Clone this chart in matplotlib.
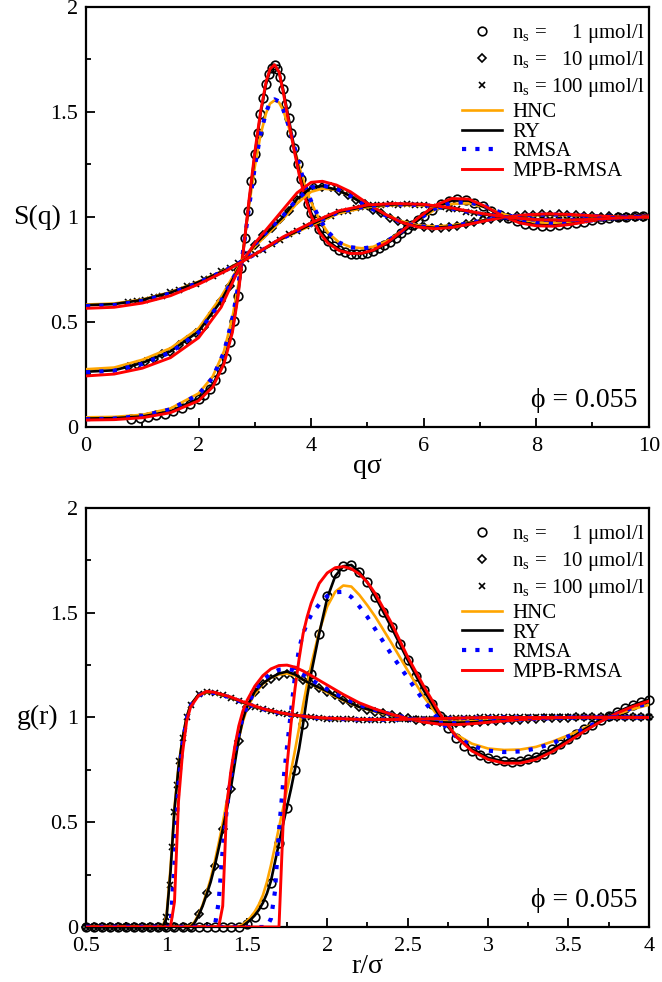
import matplotlib.pyplot as plt
from matplotlib.lines import Line2D
from matplotlib.ticker import MultipleLocator, FuncFormatter

plt.rcParams['font.family'] = ['Liberation Serif', 'DejaVu Serif']
plt.rcParams['mathtext.fontset'] = 'custom'
plt.rcParams['mathtext.rm'] = 'Liberation Serif'
plt.rcParams['mathtext.it'] = 'Liberation Serif:italic'

# ---------------- S(q) : integral-equation curves ----------------
q_fit_1 = [0, 0.5, 1.0, 1.5, 2.0, 2.25, 2.45, 2.6, 2.7, 2.8, 2.9, 3.0, 3.1, 3.2, 3.27,
           3.35, 3.43, 3.5, 3.6, 3.7, 3.8, 3.9, 4.0, 4.15, 4.3, 4.5, 4.7, 4.9, 5.1, 5.35,
           5.6, 5.9, 6.2, 6.5, 6.8, 7.1, 7.4, 7.7, 8.0, 8.3, 8.6, 8.9, 9.2, 9.6, 10.0]
sq_hnc_1 = [0.046, 0.048, 0.058, 0.088, 0.16, 0.24, 0.36, 0.52, 0.67, 0.86, 1.06, 1.24, 1.39,
            1.495, 1.54, 1.555, 1.545, 1.51, 1.43, 1.33, 1.23, 1.14, 1.07, 0.985, 0.925, 0.878,
            0.857, 0.851, 0.858, 0.885, 0.93, 0.985, 1.035, 1.062, 1.065, 1.045, 1.015, 0.99,
            0.975, 0.97, 0.973, 0.982, 0.991, 0.999, 1.003]
sq_ry_1 = [0.04, 0.042, 0.05, 0.074, 0.135, 0.2, 0.31, 0.46, 0.63, 0.85, 1.08, 1.3, 1.49, 1.635,
           1.695, 1.72, 1.69, 1.61, 1.47, 1.33, 1.2, 1.1, 1.02, 0.94, 0.885, 0.845, 0.828, 0.826,
           0.838, 0.873, 0.92, 0.985, 1.045, 1.078, 1.078, 1.045, 1.005, 0.975, 0.962, 0.959,
           0.966, 0.979, 0.992, 1.002, 1.004]
sq_rmsa_1 = [0.037, 0.04, 0.053, 0.084, 0.155, 0.235, 0.355, 0.515, 0.665, 0.855, 1.055, 1.24,
             1.395, 1.5, 1.545, 1.56, 1.55, 1.515, 1.435, 1.335, 1.235, 1.145, 1.075, 0.99,
             0.928, 0.878, 0.856, 0.85, 0.857, 0.884, 0.93, 0.987, 1.04, 1.068, 1.07, 1.05,
             1.018, 0.99, 0.974, 0.969, 0.972, 0.981, 0.99, 0.998, 1.003]
sq_mpb_1 = [0.033, 0.035, 0.044, 0.068, 0.125, 0.19, 0.3, 0.45, 0.62, 0.85, 1.09, 1.31, 1.5,
            1.645, 1.705, 1.725, 1.69, 1.6, 1.455, 1.315, 1.185, 1.085, 1.005, 0.925, 0.875,
            0.84, 0.826, 0.827, 0.842, 0.878, 0.93, 0.995, 1.055, 1.088, 1.085, 1.05, 1.005,
            0.972, 0.958, 0.956, 0.964, 0.978, 0.991, 1.002, 1.005]

q_fit_10 = [0, 0.5, 1.0, 1.5, 2.0, 2.4, 2.77, 3.0, 3.25, 3.5, 3.75, 4.0, 4.2, 4.45, 4.7, 5.0,
            5.3, 5.6, 5.9, 6.2, 6.5, 6.8, 7.1, 7.4, 7.8, 8.2, 8.6, 9.0, 9.5, 10.0]
sq_hnc_10 = [0.275, 0.283, 0.32, 0.375, 0.47, 0.62, 0.79, 0.86, 0.925, 0.99, 1.065, 1.12, 1.135,
             1.13, 1.1, 1.055, 1.015, 0.98, 0.96, 0.955, 0.96, 0.972, 0.986, 0.998, 1.006, 1.01,
             1.008, 1.004, 1.0, 1.0]
sq_ry_10 = [0.263, 0.27, 0.305, 0.36, 0.455, 0.6, 0.785, 0.87, 0.935, 1.0, 1.085, 1.14, 1.147,
            1.13, 1.1, 1.05, 1.01, 0.975, 0.955, 0.948, 0.955, 0.97, 0.985, 0.998, 1.008, 1.012,
            1.01, 1.005, 1.0, 1.0]
sq_rmsa_10 = [0.26, 0.268, 0.3, 0.355, 0.45, 0.6, 0.785, 0.87, 0.94, 1.005, 1.085, 1.14, 1.15,
              1.135, 1.1, 1.05, 1.01, 0.975, 0.955, 0.95, 0.957, 0.97, 0.985, 0.998, 1.008,
              1.012, 1.01, 1.005, 1.0, 1.0]
sq_mpb_10 = [0.243, 0.252, 0.28, 0.33, 0.425, 0.57, 0.785, 0.875, 0.955, 1.035, 1.115, 1.165,
             1.17, 1.152, 1.12, 1.065, 1.015, 0.975, 0.952, 0.944, 0.95, 0.965, 0.982, 0.997,
             1.01, 1.015, 1.012, 1.006, 1.0, 0.998]

q_fit_100 = [0, 0.5, 1.0, 1.5, 2.0, 2.5, 3.0, 3.5, 4.0, 4.5, 5.0, 5.5, 6.0, 6.5, 7.0, 7.5, 8.0,
             8.5, 9.0, 9.5, 10.0]
sq_hnc_100 = [0.583, 0.588, 0.607, 0.642, 0.692, 0.752, 0.822, 0.897, 0.96, 1.018, 1.047, 1.057,
              1.055, 1.04, 1.016, 0.998, 0.988, 0.986, 0.99, 0.996, 1.0]
sq_ry_100 = [0.58, 0.585, 0.605, 0.64, 0.69, 0.75, 0.822, 0.9, 0.965, 1.025, 1.052, 1.06, 1.058,
             1.04, 1.015, 0.997, 0.987, 0.985, 0.99, 0.996, 1.0]
sq_rmsa_100 = [0.575, 0.58, 0.6, 0.636, 0.687, 0.749, 0.822, 0.9, 0.965, 1.024, 1.052, 1.06,
               1.057, 1.04, 1.015, 0.997, 0.987, 0.985, 0.99, 0.996, 1.0]
sq_mpb_100 = [0.565, 0.57, 0.59, 0.625, 0.68, 0.745, 0.822, 0.905, 0.972, 1.03, 1.057, 1.064,
              1.06, 1.043, 1.018, 0.998, 0.987, 0.984, 0.989, 0.996, 1.0]

# ---------------- S(q) : simulation points ----------------
q_sim_1 = [0.8, 0.95, 1.1, 1.25, 1.4, 1.55, 1.7, 1.85, 2.0, 2.1, 2.2, 2.3, 2.4, 2.48, 2.56,
           2.63, 2.7, 2.76, 2.82, 2.88, 2.94, 3.0, 3.05, 3.1, 3.15, 3.2, 3.25, 3.3, 3.35, 3.4,
           3.45, 3.5, 3.55, 3.6, 3.65, 3.7, 3.76, 3.82, 3.88, 3.94, 4.0, 4.07, 4.14, 4.22, 4.3,
           4.4, 4.5, 4.6, 4.7, 4.8, 4.9, 5.0, 5.1, 5.2, 5.3, 5.4, 5.5, 5.6, 5.7, 5.8, 5.9, 6.0,
           6.15, 6.3, 6.45, 6.6, 6.75, 6.9, 7.05, 7.2, 7.35, 7.5, 7.65, 7.8, 7.95, 8.1, 8.25,
           8.4, 8.55, 8.7, 8.85, 9.0, 9.15, 9.3, 9.45, 9.6, 9.75, 9.9]
sq_sim_1 = [0.038, 0.042, 0.046, 0.055, 0.062, 0.077, 0.09, 0.108, 0.132, 0.152, 0.18, 0.222,
            0.275, 0.33, 0.405, 0.505, 0.625, 0.755, 0.9, 1.03, 1.17, 1.3, 1.4, 1.49, 1.565,
            1.635, 1.68, 1.71, 1.725, 1.705, 1.665, 1.61, 1.54, 1.47, 1.4, 1.33, 1.25, 1.18,
            1.115, 1.06, 1.02, 0.98, 0.945, 0.91, 0.885, 0.86, 0.843, 0.833, 0.826, 0.822,
            0.824, 0.83, 0.838, 0.85, 0.866, 0.882, 0.9, 0.922, 0.942, 0.962, 0.985, 1.005,
            1.035, 1.06, 1.078, 1.085, 1.08, 1.068, 1.05, 1.028, 1.01, 0.993, 0.98, 0.968,
            0.962, 0.958, 0.957, 0.96, 0.965, 0.97, 0.978, 0.985, 0.99, 0.995, 0.999, 1.002,
            1.004, 1.004]

q_sim = [0.75, 0.9, 1.05, 1.2, 1.35, 1.5, 1.65, 1.8, 1.95, 2.1, 2.25, 2.4, 2.55, 2.7, 2.85, 3.0,
         3.15, 3.3, 3.45, 3.6, 3.75, 3.9, 4.05, 4.2, 4.35, 4.5, 4.65, 4.8, 4.95, 5.1, 5.25, 5.4,
         5.55, 5.7, 5.85, 6.0, 6.15, 6.3, 6.45, 6.6, 6.75, 6.9, 7.05, 7.2, 7.35, 7.5, 7.65, 7.8,
         7.95, 8.1, 8.25, 8.4, 8.55, 8.7, 8.85, 9.0, 9.15, 9.3, 9.45, 9.6, 9.75, 9.9]
sq_sim_10 = [0.285, 0.293, 0.31, 0.322, 0.347, 0.358, 0.388, 0.412, 0.447, 0.478, 0.542, 0.598,
             0.672, 0.748, 0.812, 0.866, 0.912, 0.946, 0.992, 1.028, 1.082, 1.118, 1.143, 1.145,
             1.142, 1.123, 1.107, 1.083, 1.062, 1.034, 1.018, 0.996, 0.982, 0.966, 0.958, 0.95,
             0.949, 0.946, 0.953, 0.958, 0.968, 0.974, 0.984, 0.991, 0.995, 1.001, 1.004, 1.009,
             1.009, 1.013, 1.011, 1.012, 1.009, 1.01, 1.006, 1.006, 1.002, 1.003, 0.999, 1.001,
             1.0, 0.999]
sq_sim_100 = [0.594, 0.602, 0.605, 0.618, 0.626, 0.643, 0.653, 0.673, 0.683, 0.705, 0.718, 0.741,
              0.755, 0.781, 0.798, 0.825, 0.843, 0.871, 0.89, 0.918, 0.933, 0.955, 0.968, 0.991,
              1.003, 1.022, 1.028, 1.042, 1.046, 1.057, 1.056, 1.062, 1.058, 1.061, 1.056, 1.057,
              1.048, 1.047, 1.039, 1.036, 1.026, 1.021, 1.011, 1.008, 1.0, 0.998, 0.991, 0.991,
              0.986, 0.988, 0.984, 0.986, 0.984, 0.987, 0.987, 0.991, 0.991, 0.995, 0.995, 0.998,
              0.998, 1.001]

# ---------------- g(r) : integral-equation curves ----------------
r_fit_1 = [0.5, 1.4, 1.45, 1.475, 1.5, 1.525, 1.55, 1.575, 1.6, 1.625, 1.65, 1.675, 1.7, 1.725,
           1.75, 1.775, 1.8, 1.825, 1.85, 1.875, 1.9, 1.95, 2.0, 2.05, 2.1, 2.15, 2.2, 2.25, 2.3,
           2.4, 2.5, 2.6, 2.7, 2.8, 2.9, 3.0, 3.1, 3.2, 3.3, 3.4, 3.5, 3.6, 3.7, 3.8, 3.9, 4.0]
gr_hnc_1 = [0, 0, 0.003, 0.012, 0.028, 0.048, 0.074, 0.108, 0.152, 0.215, 0.295, 0.385, 0.475,
            0.565, 0.655, 0.745, 0.845, 0.95, 1.06, 1.16, 1.25, 1.41, 1.53, 1.6, 1.63, 1.625,
            1.585, 1.535, 1.48, 1.355, 1.225, 1.1, 0.995, 0.92, 0.875, 0.852, 0.845, 0.847,
            0.86, 0.885, 0.915, 0.95, 0.985, 1.015, 1.04, 1.06]
gr_ry_1 = [0, 0, 0, 0.005, 0.02, 0.036, 0.056, 0.082, 0.115, 0.16, 0.22, 0.31, 0.4, 0.49, 0.574,
           0.66, 0.755, 0.85, 0.97, 1.1, 1.21, 1.4, 1.57, 1.675, 1.722, 1.728, 1.695, 1.645,
           1.575, 1.43, 1.275, 1.13, 1.005, 0.91, 0.848, 0.808, 0.79, 0.792, 0.812, 0.848,
           0.895, 0.943, 0.988, 1.025, 1.058, 1.085]
gr_rmsa_1 = [0, 0, 0, 0, 0, 0, 0, 0, 0, 0, 0.04, 0.17, 0.46, 0.68, 0.86, 1.03, 1.2, 1.33, 1.4,
             1.45, 1.49, 1.54, 1.58, 1.598, 1.6, 1.575, 1.53, 1.48, 1.42, 1.3, 1.19, 1.08,
             0.985, 0.91, 0.865, 0.842, 0.835, 0.838, 0.852, 0.877, 0.91, 0.947, 0.985, 1.018,
             1.046, 1.068]
gr_mpb_1 = [0, 0, 0, 0, 0, 0, 0, 0, 0, 0, 0, 0, 0, 0.48, 0.77, 0.97, 1.14, 1.28, 1.4, 1.48,
            1.545, 1.64, 1.69, 1.715, 1.72, 1.71, 1.685, 1.645, 1.59, 1.45, 1.29, 1.15, 1.02,
            0.91, 0.84, 0.8, 0.782, 0.782, 0.8, 0.837, 0.885, 0.935, 0.98, 1.02, 1.052, 1.078]

r_fit_10 = [0.5, 1.1, 1.15, 1.175, 1.2, 1.225, 1.25, 1.275, 1.3, 1.325, 1.35, 1.375, 1.4, 1.425,
            1.45, 1.475, 1.5, 1.55, 1.6, 1.65, 1.7, 1.75, 1.8, 1.85, 1.9, 2.0, 2.1, 2.2, 2.3,
            2.4, 2.5, 2.6, 2.7, 2.8, 2.9, 3.0, 3.2, 3.4, 3.6, 3.8, 4.0]
gr_hnc_10 = [0, 0, 0.005, 0.025, 0.06, 0.105, 0.165, 0.23, 0.31, 0.4, 0.495, 0.6, 0.7, 0.8, 0.9,
             0.98, 1.04, 1.115, 1.16, 1.19, 1.205, 1.21, 1.2, 1.18, 1.16, 1.12, 1.082, 1.05,
             1.028, 1.01, 0.997, 0.987, 0.981, 0.98, 0.982, 0.986, 0.993, 0.998, 1.001, 1.001,
             1.0]
gr_ry_10 = [0, 0, 0, 0.02, 0.055, 0.1, 0.155, 0.215, 0.29, 0.375, 0.465, 0.56, 0.66, 0.78, 0.9,
            0.99, 1.05, 1.125, 1.163, 1.19, 1.21, 1.219, 1.205, 1.18, 1.16, 1.125, 1.085, 1.05,
            1.03, 1.012, 0.998, 0.985, 0.977, 0.975, 0.977, 0.982, 0.99, 0.997, 1.001, 1.002,
            1.0]
gr_rmsa_10 = [0, 0, 0, 0, 0, 0, 0, 0, 0, 0.12, 0.37, 0.56, 0.71, 0.84, 0.93, 1.0, 1.05, 1.13,
              1.18, 1.21, 1.228, 1.232, 1.225, 1.205, 1.18, 1.135, 1.095, 1.06, 1.035, 1.015,
              0.998, 0.984, 0.975, 0.973, 0.976, 0.981, 0.99, 0.997, 1.001, 1.002, 1.0]
gr_mpb_10 = [0, 0, 0, 0, 0, 0, 0, 0, 0, 0, 0.1, 0.58, 0.74, 0.86, 0.96, 1.03, 1.08, 1.15, 1.2,
             1.232, 1.248, 1.25, 1.24, 1.222, 1.2, 1.155, 1.11, 1.07, 1.04, 1.015, 0.995, 0.978,
             0.968, 0.966, 0.97, 0.977, 0.99, 0.998, 1.002, 1.002, 1.0]

r_fit_100 = [0.5, 0.95, 0.975, 1.0, 1.025, 1.05, 1.075, 1.1, 1.125, 1.15, 1.2, 1.25, 1.3, 1.4,
             1.5, 1.6, 1.7, 1.8, 1.9, 2.0, 2.2, 2.4, 2.6, 2.8, 3.0, 3.3, 3.6, 4.0]
gr_hnc_100 = [0, 0, 0, 0.05, 0.28, 0.57, 0.77, 0.9, 1.0, 1.06, 1.108, 1.12, 1.116, 1.094, 1.064,
              1.04, 1.022, 1.01, 1.0, 0.995, 0.99, 0.99, 0.993, 0.997, 1.0, 1.0, 1.0, 1.0]
gr_ry_100 = [0, 0, 0, 0.04, 0.26, 0.56, 0.76, 0.9, 1.0, 1.06, 1.11, 1.122, 1.118, 1.095, 1.065,
             1.04, 1.022, 1.01, 1.0, 0.995, 0.99, 0.99, 0.993, 0.997, 1.0, 1.0, 1.0, 1.0]
gr_rmsa_100 = [0, 0, 0, 0, 0, 0.3, 0.68, 0.87, 0.99, 1.055, 1.105, 1.12, 1.117, 1.095, 1.065,
               1.04, 1.022, 1.01, 1.0, 0.995, 0.99, 0.99, 0.993, 0.997, 1.0, 1.0, 1.0, 1.0]
gr_mpb_100 = [0, 0, 0, 0, 0, 0.12, 0.6, 0.83, 0.98, 1.05, 1.105, 1.125, 1.12, 1.098, 1.068,
              1.042, 1.024, 1.011, 1.002, 0.997, 0.991, 0.99, 0.993, 0.997, 1.0, 1.0, 1.0, 1.0]

# ---------------- g(r) : simulation points ----------------
r_sim = [0.5, 0.55, 0.6, 0.65, 0.7, 0.75, 0.8, 0.85, 0.9, 0.95, 1.0, 1.05, 1.1, 1.15, 1.2, 1.25,
         1.3, 1.35, 1.4, 1.45, 1.5, 1.55, 1.6, 1.65, 1.7, 1.75, 1.8, 1.85, 1.9, 1.95, 2.0, 2.05,
         2.1, 2.15, 2.2, 2.25, 2.3, 2.35, 2.4, 2.45, 2.5, 2.55, 2.6, 2.65, 2.7, 2.75, 2.8, 2.85,
         2.9, 2.95, 3.0, 3.05, 3.1, 3.15, 3.2, 3.25, 3.3, 3.35, 3.4, 3.45, 3.5, 3.55, 3.6, 3.65,
         3.7, 3.75, 3.8, 3.85, 3.9, 3.95, 4.0]
gr_sim_1 = [0, 0, 0, 0, 0, 0, 0, 0, 0, 0, 0, 0, 0, 0, 0, 0, 0, 0, 0, 0,
            0.015, 0.05, 0.11, 0.21, 0.4, 0.57, 0.75, 0.97, 1.21, 1.4, 1.58, 1.69, 1.725, 1.73,
            1.695, 1.645, 1.575, 1.505, 1.43, 1.35, 1.275, 1.2, 1.13, 1.065, 1.005, 0.95, 0.9,
            0.865, 0.84, 0.82, 0.805, 0.795, 0.79, 0.788, 0.792, 0.8, 0.812, 0.828, 0.848, 0.872,
            0.897, 0.92, 0.943, 0.965, 0.988, 1.008, 1.027, 1.043, 1.058, 1.072, 1.085]
gr_sim_10 = [0, 0, 0, 0, 0, 0, 0, 0, 0, 0, 0, 0, 0, 0,
             0.06, 0.16, 0.29, 0.47, 0.66, 0.89, 1.05, 1.12, 1.16, 1.185, 1.2, 1.21, 1.2, 1.18,
             1.16, 1.14, 1.122, 1.105, 1.085, 1.067, 1.05, 1.038, 1.028, 1.02, 1.01, 1.003,
             0.997, 0.99, 0.985, 0.981, 0.977, 0.975, 0.975, 0.976, 0.977, 0.979, 0.982, 0.985,
             0.987, 0.989, 0.99, 0.992, 0.994, 0.996, 0.997, 0.998, 0.999, 1.0, 1.001, 1.001,
             1.002, 1.002, 1.002, 1.001, 1.001, 1.0, 1.0]
r_sim_100 = [0.5, 0.55, 0.6, 0.65, 0.7, 0.75, 0.8, 0.85, 0.9, 0.95, 0.98, 1.0, 1.02, 1.035,
             1.05, 1.065, 1.08, 1.1, 1.125, 1.15, 1.2, 1.25, 1.3, 1.35, 1.4, 1.45, 1.5, 1.55,
             1.6, 1.65, 1.7, 1.75, 1.8, 1.85, 1.9, 1.95, 2.0, 2.05, 2.1, 2.15, 2.2, 2.25, 2.3,
             2.35, 2.4, 2.45, 2.5, 2.55, 2.6, 2.65, 2.7, 2.75, 2.8, 2.85, 2.9, 2.95, 3.0, 3.05,
             3.1, 3.15, 3.2, 3.25, 3.3, 3.35, 3.4, 3.45, 3.5, 3.55, 3.6, 3.65, 3.7, 3.75, 3.8,
             3.85, 3.9, 3.95, 4.0]
gr_sim_100 = [0, 0, 0, 0, 0, 0, 0, 0, 0, 0, 0, 0.05, 0.2, 0.38, 0.55, 0.68, 0.79, 0.9, 1.0,
              1.06, 1.11, 1.122, 1.118, 1.107, 1.095, 1.08, 1.065, 1.052, 1.04, 1.03, 1.022,
              1.015, 1.01, 1.004, 1.0, 0.997, 0.995, 0.993, 0.992, 0.991, 0.99, 0.99, 0.99, 0.99,
              0.99, 0.991, 0.992, 0.993, 0.994, 0.995, 0.996, 0.997, 0.998, 0.999, 0.999, 1.0,
              1.0, 1.0, 1.0, 1.0, 1.0, 1.0, 1.0, 1.0, 1.0, 1.0, 1.0, 1.0, 1.0, 1.0, 1.0, 1.0,
              1.0, 1.0, 1.0, 1.0, 1.0]

ORANGE = '#FFA500'
BLUE = '#0000FF'
RED = '#FF0000'
fit_styles = [
    dict(color=ORANGE, lw=1.9, label='HNC'),
    dict(color='black', lw=1.9, label='RY'),
    dict(color=BLUE, lw=3.0, ls=(0, (1, 2.2)), dash_capstyle='butt', label='RMSA'),
    dict(color=RED, lw=2.1, label='MPB-RMSA'),
]
sym_styles = [
    dict(marker='o', ms=6.2, mew=1.2),
    dict(marker='D', ms=4.3, mew=1.2),
    dict(marker='x', ms=4.5, mew=1.2),
]
legend_labels = ['n$_{\\rm s}$ =     1 μmol/l', 'n$_{\\rm s}$ =   10 μmol/l',
                 'n$_{\\rm s}$ = 100 μmol/l']


def draw_panel(ax, sims, fits):
    for (x, y), st in zip(sims, sym_styles):
        ax.plot(x, y, ls='none', mfc='none', mec='black', clip_on=False, zorder=2, **st)
    for x, curves in fits:
        for y, st in zip(curves, fit_styles):
            kw = dict(st)
            kw.pop('label')
            ax.plot(x, y, zorder=3, **kw)


def style_axes(ax, xmaj, xmin, xlim, xlabel, ylabel):
    ax.set_xlim(*xlim)
    ax.set_ylim(0, 2)
    ax.xaxis.set_major_locator(MultipleLocator(xmaj))
    ax.xaxis.set_minor_locator(MultipleLocator(xmin))
    ax.yaxis.set_major_locator(MultipleLocator(0.5))
    ax.yaxis.set_minor_locator(MultipleLocator(0.25))
    fmt = FuncFormatter(lambda v, p: f'{v:g}')
    ax.xaxis.set_major_formatter(fmt)
    ax.yaxis.set_major_formatter(fmt)
    ax.tick_params(which='both', direction='in', top=False, right=False, width=1.3,
                   labelsize=16)
    ax.tick_params(which='major', length=6.5)
    ax.tick_params(which='minor', length=3.6)
    ax.tick_params(axis='x', which='major', pad=7)
    ax.tick_params(axis='y', which='major', pad=5.5)
    for s in ax.spines.values():
        s.set_linewidth(1.6)
    ax.set_xlabel(xlabel, fontsize=20, labelpad=-1)
    ax.set_ylabel(ylabel, fontsize=20, rotation=0, ha='center', va='center')
    ax.yaxis.set_label_coords(-0.087, 0.5)
    ax.text(0.979, 0.048, 'ϕ = 0.055', transform=ax.transAxes, ha='right', va='baseline',
            fontsize=20)

    # symbols and model curves sit in two stacked legend blocks
    sym_handles = [Line2D([], [], ls='none', mfc='none', mec='black', **st)
                   for st in sym_styles]
    leg = ax.legend(sym_handles, legend_labels, loc='upper left',
                    bbox_to_anchor=(0.668, 0.964), frameon=False, fontsize=15,
                    handlelength=1.92, handletextpad=0.48, labelspacing=0.2,
                    borderaxespad=0, borderpad=0)
    ax.add_artist(leg)
    fit_handles = [Line2D([], [], **{k: v for k, v in st.items() if k != 'label'})
                   for st in fit_styles]
    ax.legend(fit_handles, [st['label'] for st in fit_styles], loc='upper left',
              bbox_to_anchor=(0.668, 0.772), frameon=False, fontsize=15,
              handlelength=1.92, handletextpad=0.48, labelspacing=0.0,
              borderaxespad=0, borderpad=0)


fig = plt.figure(figsize=(6.62, 9.82), dpi=100)
ax1 = fig.add_axes([0.130, 0.5652, 0.850, 0.4277])
ax2 = fig.add_axes([0.130, 0.0560, 0.850, 0.4267])

draw_panel(ax1,
           [(q_sim_1, sq_sim_1), (q_sim, sq_sim_10), (q_sim, sq_sim_100)],
           [(q_fit_1, [sq_hnc_1, sq_ry_1, sq_rmsa_1, sq_mpb_1]),
            (q_fit_10, [sq_hnc_10, sq_ry_10, sq_rmsa_10, sq_mpb_10]),
            (q_fit_100, [sq_hnc_100, sq_ry_100, sq_rmsa_100, sq_mpb_100])])
style_axes(ax1, 2, 1, (0, 10), 'qσ', 'S(q)')

draw_panel(ax2,
           [(r_sim, gr_sim_1), (r_sim, gr_sim_10), (r_sim_100, gr_sim_100)],
           [(r_fit_1, [gr_hnc_1, gr_ry_1, gr_rmsa_1, gr_mpb_1]),
            (r_fit_10, [gr_hnc_10, gr_ry_10, gr_rmsa_10, gr_mpb_10]),
            (r_fit_100, [gr_hnc_100, gr_ry_100, gr_rmsa_100, gr_mpb_100])])
style_axes(ax2, 0.5, 0.25, (0.5, 4), 'r/σ', 'g(r)')

fig.savefig('out.png', dpi=100)
